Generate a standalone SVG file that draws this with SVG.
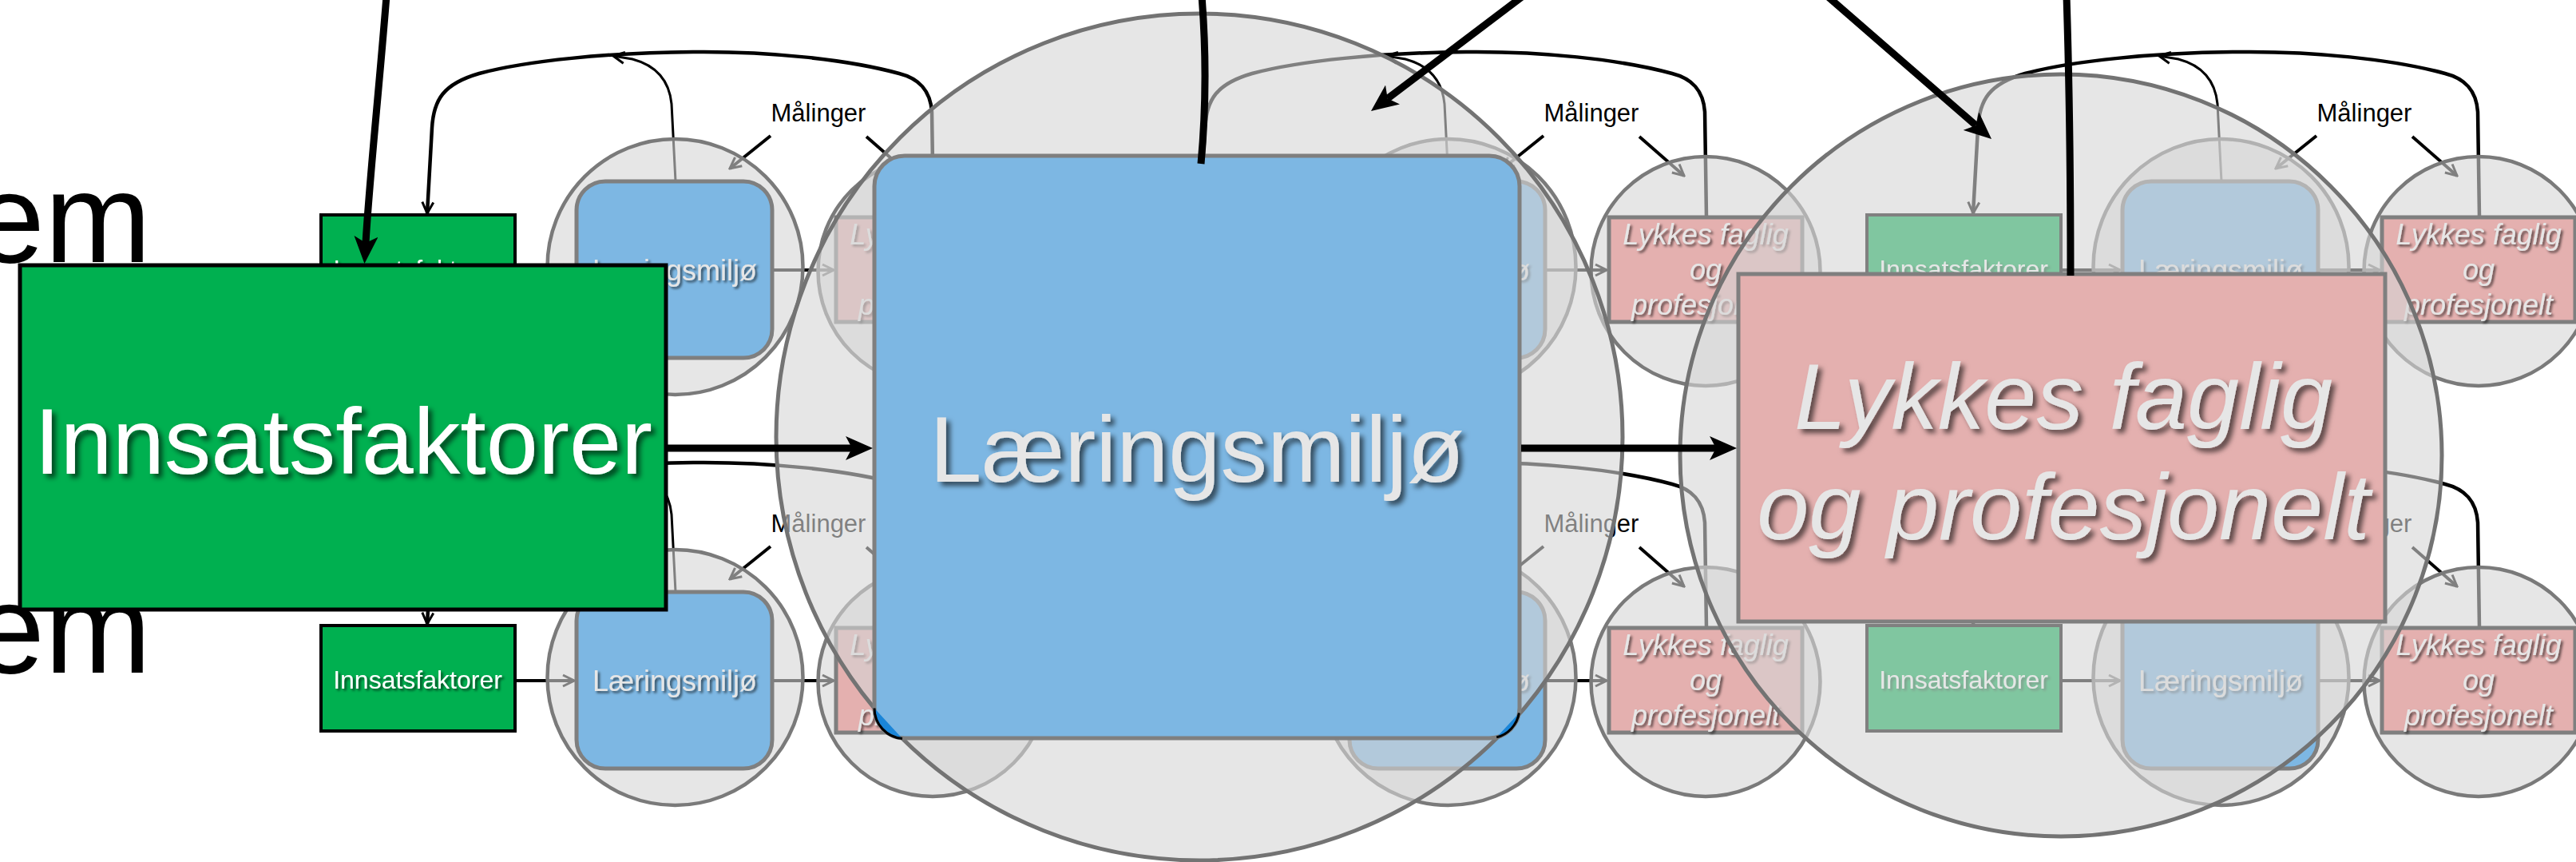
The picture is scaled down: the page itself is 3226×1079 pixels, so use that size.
<svg xmlns="http://www.w3.org/2000/svg" width="3226" height="1079" viewBox="0 0 3226 1079">
<style>
text{font-family:"Liberation Sans",Arial,Helvetica,sans-serif}
.fb{fill:none;stroke:#000;stroke-width:4.5}
.fb2{fill:none;stroke:#000;stroke-width:3}
.ma{fill:none;stroke:#000;stroke-width:4}
.mal{font-size:31px;text-anchor:middle;fill:#000}
.gbox{fill:#00B050;stroke:#000;stroke-width:4}
.gt{font-size:32px;fill:#fff;text-anchor:middle}
.ov{fill:#D5D5D5;fill-opacity:0.6;stroke:#7A7A7A;stroke-width:4.5}
.bbox{fill:#7DB7E3;stroke:#7F7F7F;stroke-width:5}
.bt{font-size:36px;fill:#E6E6E6;text-anchor:middle}
.pbox{fill:#E4B0AF;stroke:#7F7F7F;stroke-width:5}
.pt{font-size:36px;font-style:italic;fill:#E6E6E6;text-anchor:middle}
.big{fill:none;stroke:#000;stroke-width:9}
.bigt{font-size:117px;text-anchor:middle}
</style>
<defs>
<filter id="ts" x="-10%" y="-40%" width="125%" height="180%"><feDropShadow dx="2.5" dy="2.5" stdDeviation="1.5" flood-color="#000" flood-opacity="0.6"/></filter>
<filter id="tsb" x="-10%" y="-30%" width="125%" height="170%"><feDropShadow dx="5" dy="5" stdDeviation="3" flood-color="#000" flood-opacity="0.6"/></filter>
<marker id="open" markerUnits="userSpaceOnUse" viewBox="-2 -2 18 18" markerWidth="18" markerHeight="18" refX="14" refY="7" orient="auto"><path d="M0,0 L14,7 L0,14" fill="none" stroke="#000" stroke-width="3"/></marker>
<marker id="bigarrow" markerUnits="userSpaceOnUse" viewBox="0 0 34 30" markerWidth="34" markerHeight="30" refX="8" refY="15" orient="auto"><path d="M0,0 L34,15 L0,30 L8,15 Z" fill="#000"/></marker>
<g id="sys">
  <path class="fb" d="M1169,272 L1167,140 C1165,112 1150,98 1126,92 C1060,74 960,64 868,65 C760,66 660,76 600,92 C555,105 543,125 541,160 L535,267" marker-end="url(#open)"/>
  <path class="fb2" d="M846,227 L841,130 C838,100 822,82 792,74 L768,70" marker-end="url(#open)"/>
  <text class="mal" x="1025" y="152">Målinger</text>
  <line class="ma" x1="965" y1="170" x2="914" y2="211" marker-end="url(#open)"/>
  <line class="ma" x1="1085" y1="171" x2="1141" y2="220" marker-end="url(#open)"/>
  <line class="ma" x1="645" y1="338" x2="719" y2="338" marker-end="url(#open)"/>
  <line class="ma" x1="967" y1="338" x2="1044" y2="338" marker-end="url(#open)"/>
  <rect class="gbox" x="402" y="269" width="243" height="132"/>
  <text class="gt" x="523" y="348" filter="url(#ts)">Innsatsfaktorer</text>
  <circle class="ov" cx="845.5" cy="334" r="160"/>
  <circle class="ov" cx="1168" cy="339.5" r="143.5"/>
  <rect class="bbox" x="722" y="227" width="245" height="221" rx="36"/>
  <text class="bt" x="845" y="351" filter="url(#ts)">Læringsmiljø</text>
  <rect class="pbox" x="1047" y="272" width="242" height="131"/>
  <text class="pt" x="1168" y="306" filter="url(#ts)">Lykkes faglig</text>
  <text class="pt" x="1168" y="350" filter="url(#ts)">og</text>
  <text class="pt" x="1168" y="394" filter="url(#ts)">profesjonelt</text>
</g>
</defs>
<rect width="3226" height="1079" fill="#fff"/>
<g id="cut-title">
  <text x="-33" y="328" font-size="160" fill="#000">em</text>
  <text x="-33" y="842" font-size="160" fill="#000">em</text>
</g>
<g id="small-systems">
  <use id="sys-a1" href="#sys"/>
  <use id="sys-b1" href="#sys" transform="translate(968,0)"/>
  <use id="sys-c1" href="#sys" transform="translate(1936,0)"/>
  <use id="sys-a2" href="#sys" transform="translate(0,514)"/>
  <use id="sys-b2" href="#sys" transform="translate(968,514)"/>
  <use id="sys-c2" href="#sys" transform="translate(1936,514)"/>
</g>
<g id="node-innsatsfaktorer">
  <rect x="25" y="332" width="809" height="431" fill="#00B050" stroke="#000" stroke-width="5"/>
  <text class="bigt" x="430" y="593" fill="#fff" filter="url(#tsb)">Innsatsfaktorer</text>
</g>
<g id="node-laeringsmiljo">
  <circle cx="1502" cy="547" r="530" fill="#D5D5D5" fill-opacity="0.6" stroke="#737373" stroke-width="5"/>
  <rect x="1095" y="195" width="808" height="729" rx="38" fill="#7DB7E3" stroke="#7F7F7F" stroke-width="5"/>
  <path d="M1095,886.5 A38,38 0 0 0 1130,924.5 Z" fill="#1A85D8"/>
  <path d="M1095,886.5 A38,38 0 0 0 1130,924.5" fill="none" stroke="#000" stroke-width="3"/>
  <path d="M1902.4,892.6 A38,38 0 0 1 1874.2,922.9 Z" fill="#1A85D8"/>
  <path d="M1902.4,892.6 A38,38 0 0 1 1874.2,922.9" fill="none" stroke="#000" stroke-width="3"/>
  <text class="bigt" x="1499" y="603" font-size="118" fill="#E6E6E6" filter="url(#tsb)">Læringsmiljø</text>
</g>
<g id="node-lykkes">
  <circle cx="2581" cy="570" r="477" fill="#D5D5D5" fill-opacity="0.6" stroke="#737373" stroke-width="5"/>
  <rect x="2177" y="343" width="810" height="435" fill="#E4B0AF" stroke="#7F7F7F" stroke-width="5"/>
  <text class="bigt" x="2584" y="537" font-size="115" font-style="italic" fill="#E6E6E6" filter="url(#tsb)">Lykkes faglig</text>
  <text class="bigt" x="2584" y="675" font-size="115" font-style="italic" fill="#E6E6E6" filter="url(#tsb)">og profesjonelt</text>
</g>
<g id="connectors">
  <path class="big" d="M484,-5 C474,120 463,220 458,304" marker-end="url(#bigarrow)"/>
  <path class="big" d="M1505,-5 C1511,70 1510,140 1504,205"/>
  <path class="big" d="M1910,-7 L1737.7,123.3" stroke-width="10" marker-end="url(#bigarrow)"/>
  <path class="big" d="M2287,-6 L2474.4,156.9" stroke-width="10" marker-end="url(#bigarrow)"/>
  <path class="big" d="M2588,-5 C2592,120 2593,250 2593,345"/>
  <path class="big" d="M836,561 L1067,561" marker-end="url(#bigarrow)"/>
  <path class="big" d="M1905,561 L2149,561" marker-end="url(#bigarrow)"/>
</g>
</svg>
